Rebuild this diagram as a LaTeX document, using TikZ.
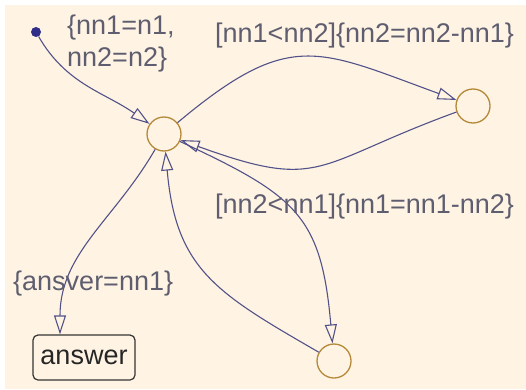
\documentclass[tikz,border=0pt]{standalone}
\usepackage{fontspec}
\setmainfont{Liberation Sans}
\usetikzlibrary{arrows.meta,positioning}
\definecolor{Paper}{HTML}{FFF4E3}
\definecolor{Wire}{HTML}{52528A}
\definecolor{Ring}{HTML}{B4893A}
\definecolor{Ink}{HTML}{5E5E70}
\definecolor{Dot}{HTML}{2F2F8A}
\tikzset{
  junc/.style={circle, draw=Ring, line width=1.3pt, minimum size=34pt, inner sep=0pt},
  initdot/.style={circle, fill=Dot, minimum size=10pt, inner sep=0pt},
  statebox/.style={draw=black!80, line width=1.2pt, rounded corners=5pt,
                   minimum width=102pt, minimum height=45pt, inner sep=0pt,
                   font=\fontsize{27}{32}\selectfont, text=black!85},
  trans/.style={-{Triangle[open, length=19pt, width=12pt]}, line width=1.1pt, draw=Wire},
  lbl/.style={font=\fontsize{27}{32}\selectfont, text=Ink, inner sep=0pt},
}
\begin{document}
\begin{tikzpicture}[x=1pt, y=1pt]
  \useasboundingbox (0,0) rectangle (526,389);
  \fill[Paper] (5,0) rectangle (526,384);
  % junctions and the answer state
  \node[initdot] (init) at (36,357) {};
  \node[junc] (jc) at (164,255) {};
  \node[junc] (jr) at (473,283) {};
  \node[junc] (jb) at (334,28) {};
  \node[statebox] (ans) at (84,31.5) {answer};
  \coordinate (anstop) at ([xshift=-24pt]ans.north);
  % transitions
  \draw[trans] (init) to[out=-60, in=145] (jc);
  \draw[trans] (jc) to[out=40, in=160, looseness=1.35] (jr);
  \draw[trans] (jr) to[out=200, in=-20, looseness=1.4] (jc);
  \draw[trans] (jc) to[out=-25, in=95, looseness=1.3] (jb);
  \draw[trans] (jb) to[out=150, in=-85, looseness=1.2] (jc);
  \draw[trans] (jc) to[out=-120, in=90] (anstop);
  % labels
  \node[lbl, align=left, anchor=north west] (initlbl) at (67,374) {\{nn1=n1,\\nn2=n2\}};
  \node[lbl, anchor=base west] (toplbl) at (215,346) {[nn1<nn2]\{nn2=nn2-nn1\}};
  \node[lbl, anchor=base west] (midlbl) at (215,176) {[nn2<nn1]\{nn1=nn1-nn2\}};
  \node[lbl, anchor=base west] (anslbl) at (13,99) {\{ansver=nn1\}};
\end{tikzpicture}
\end{document}
